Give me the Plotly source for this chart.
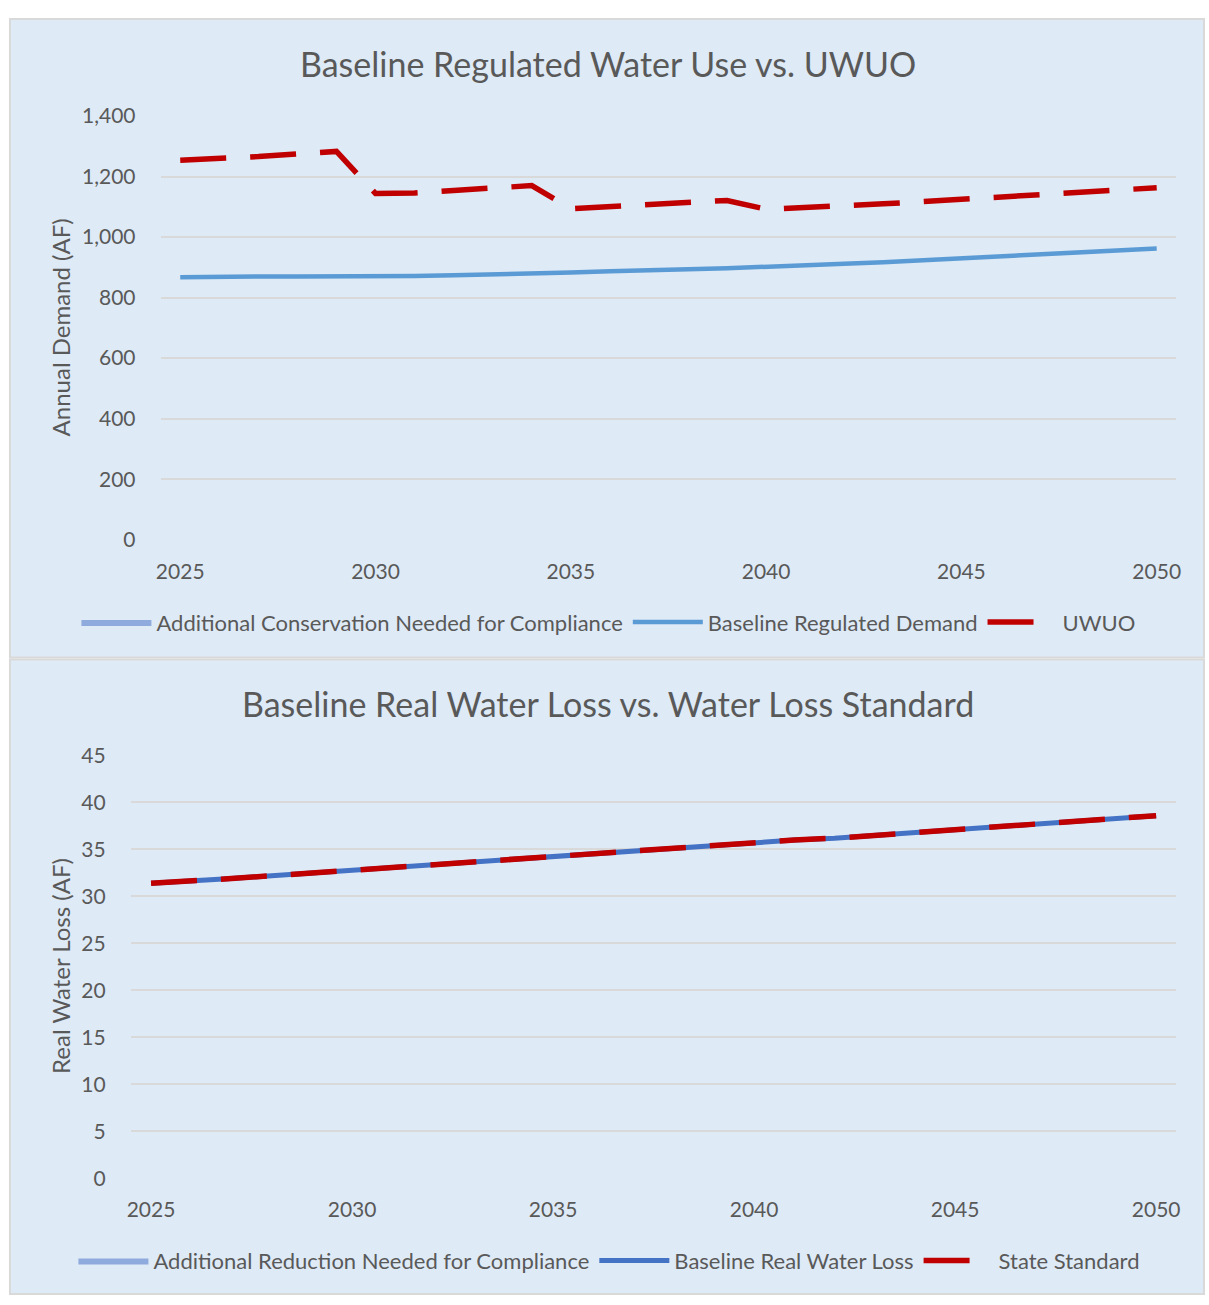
import plotly.graph_objects as go

years = list(range(2025, 2051))

# top chart: regulated water use (AF)
baseline_demand = [867, 870, 870, 870, 870, 870, 871, 874, 876, 879, 883, 887, 889,
                   894, 897, 903, 908, 912, 917, 923, 929, 936, 942, 949, 955, 962]
uwuo = [1254, 1259, 1266, 1275, 1283, 1144, 1146, 1154, 1162, 1170, 1094, 1100, 1107,
        1114, 1121, 1092, 1097, 1103, 1110, 1117, 1124, 1131, 1139, 1147, 1155, 1163]
extra_conservation = [0] * len(years)

# bottom chart: real water loss (AF)
baseline_loss = [31.4, 31.6, 31.9, 32.2, 32.5, 32.8, 33.1, 33.4, 33.7, 34.0, 34.3, 34.5, 34.8,
                 35.1, 35.4, 35.7, 36.0, 36.2, 36.5, 36.8, 37.1, 37.4, 37.7, 38.0, 38.3, 38.6]
state_standard = list(baseline_loss)
extra_reduction = [0] * len(years)

FONT = "Lato"
GREY = "#595959"
PANEL = "#deeaf6"
GRID = "#d9d9d9"
W, H = 1209, 1305

fig = go.Figure()

# top chart traces
fig.add_trace(go.Scatter(x=years, y=extra_conservation, name="Additional Conservation Needed for Compliance",
                         fill="tozeroy", fillcolor="#8faadc", line=dict(width=0, color="#8faadc"),
                         mode="lines", xaxis="x", yaxis="y", legend="legend"))
fig.add_trace(go.Scatter(x=years, y=baseline_demand, name="Baseline Regulated Demand",
                         line=dict(color="#5b9bd5", width=4.5), mode="lines",
                         xaxis="x", yaxis="y", legend="legend"))
fig.add_trace(go.Scatter(x=years, y=uwuo, name="UWUO",
                         line=dict(color="#c00000", width=5.5, dash="46px,24px"), mode="lines",
                         xaxis="x", yaxis="y", legend="legend"))

# bottom chart traces
fig.add_trace(go.Scatter(x=years, y=extra_reduction, name="Additional Reduction Needed for Compliance",
                         fill="tozeroy", fillcolor="#8faadc", line=dict(width=0, color="#8faadc"),
                         mode="lines", xaxis="x2", yaxis="y2", legend="legend2"))
fig.add_trace(go.Scatter(x=years, y=baseline_loss, name="Baseline Real Water Loss",
                         line=dict(color="#4472c4", width=5), mode="lines",
                         xaxis="x2", yaxis="y2", legend="legend2"))
fig.add_trace(go.Scatter(x=years, y=state_standard, name="State Standard",
                         line=dict(color="#c00000", width=5.5, dash="46px,24px"), mode="lines",
                         xaxis="x2", yaxis="y2", legend="legend2"))

tickfont = dict(family=FONT, size=21, color=GREY)
xcommon = dict(range=[2024.5, 2050.5], tickvals=[2025, 2030, 2035, 2040, 2045, 2050],
               showgrid=False, zeroline=False, showline=False,
               ticks="outside", ticklen=13, tickcolor="rgba(0,0,0,0)", tickfont=tickfont)
ycommon = dict(showgrid=True, gridcolor=GRID, gridwidth=1.5, zeroline=False, showline=False,
               ticks="outside", ticklen=20, tickcolor="rgba(0,0,0,0)", tickfont=tickfont)

legend_common = dict(orientation="h", bgcolor="rgba(0,0,0,0)", font=dict(family=FONT, size=22, color=GREY),
                     itemwidth=70, tracegroupgap=0, xanchor="left", yanchor="middle")

fig.update_layout(
    width=W, height=H,
    margin=dict(l=0, r=0, t=0, b=0),
    paper_bgcolor="white",
    plot_bgcolor="rgba(0,0,0,0)",
    xaxis=dict(domain=[157 / W, 1181 / W], anchor="y", **xcommon),
    yaxis=dict(domain=[1 - 536 / H, 1 - 104 / H], anchor="x", range=[0, 1400], dtick=200,
               tickformat=",d", **ycommon),
    xaxis2=dict(domain=[127 / W, 1181 / W], anchor="y2", **xcommon),
    yaxis2=dict(domain=[1 - 1187 / H, 1 - 756 / H], anchor="x2", range=[0, 45], dtick=5, **ycommon),
    legend=dict(x=72 / W, y=1 - 620 / H, **legend_common),
    legend2=dict(x=69 / W, y=1 - 1271 / H, **legend_common),
    showlegend=True,
    shapes=[
        dict(type="rect", xref="paper", yref="paper", x0=5 / W, x1=1, y0=1 - 656 / H, y1=1 - 5 / H,
             fillcolor=PANEL, line=dict(color=GRID, width=2), layer="below"),
        dict(type="rect", xref="paper", yref="paper", x0=5 / W, x1=1, y0=0, y1=1 - 658 / H,
             fillcolor=PANEL, line=dict(color=GRID, width=2), layer="below"),
    ],
    annotations=[
        dict(text="Baseline Regulated Water Use vs. UWUO", xref="paper", yref="paper",
             x=608 / W, y=1 - 50 / H, showarrow=False, xanchor="center", yanchor="middle",
             font=dict(family=FONT, size=34, color=GREY)),
        dict(text="Baseline Real Water Loss vs. Water Loss Standard", xref="paper", yref="paper",
             x=608 / W, y=1 - 703 / H, showarrow=False, xanchor="center", yanchor="middle",
             font=dict(family=FONT, size=34, color=GREY)),
        dict(text="Annual Demand (AF)", xref="paper", yref="paper", textangle=-90,
             x=56 / W, y=1 - 320 / H, showarrow=False, xanchor="center", yanchor="middle",
             font=dict(family=FONT, size=24, color=GREY)),
        dict(text="Real Water Loss (AF)", xref="paper", yref="paper", textangle=-90,
             x=56 / W, y=1 - 971 / H, showarrow=False, xanchor="center", yanchor="middle",
             font=dict(family=FONT, size=24, color=GREY)),
    ],
)

# drop the default page margin so the figure sits flush in the window
fig.write_html("out.html", config={"displayModeBar": False},
               post_script="document.body.style.margin='0';")
